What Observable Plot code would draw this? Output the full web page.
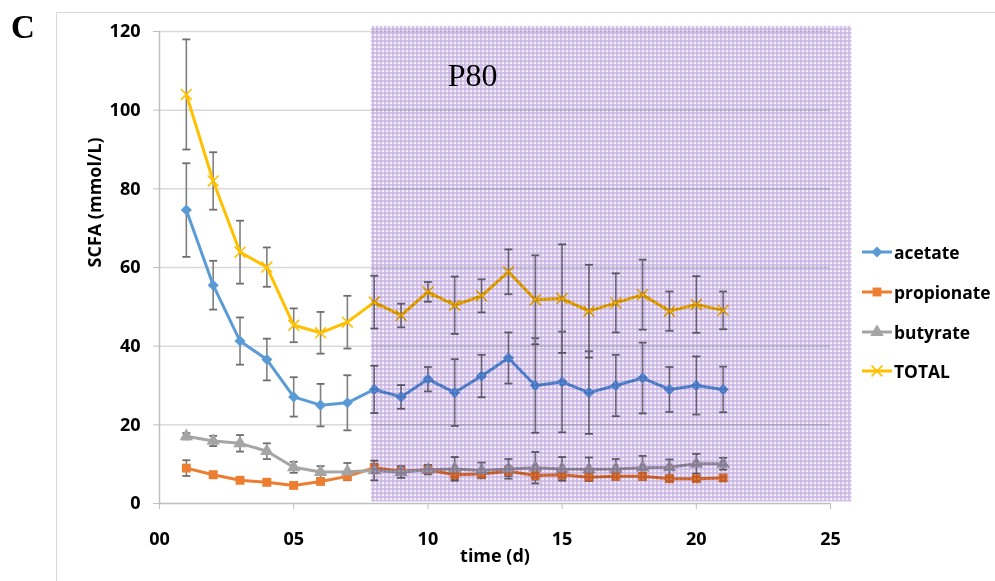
<!DOCTYPE html>
<html>
<head>
<meta charset="utf-8">
<script src="https://cdn.jsdelivr.net/npm/d3@7"></script>
<script src="https://cdn.jsdelivr.net/npm/@observablehq/plot@0.6"></script>
<style>
  html, body { margin: 0; padding: 0; background: #fff; }
  #wrap { position: relative; width: 995px; height: 581px; overflow: hidden; font-family: "Open Sans", Lato, sans-serif; }
  #frame { position: absolute; left: 56px; top: 12px; width: 1000px; height: 600px; border-left: 1.5px solid #d9d9d9; border-top: 1.5px solid #d9d9d9; box-sizing: border-box; }
  #panel { position: absolute; left: 11px; top: 11px; font-family: "Liberation Serif", "DejaVu Serif", serif; font-weight: bold; font-size: 33px; line-height: 33px; color: #000; }
  #chart { position: absolute; left: 0; top: 0; }
  #legend { position: absolute; left: 862px; top: 0; }
  .item { position: absolute; left: 0; height: 24px; display: flex; align-items: center; white-space: nowrap; font-weight: bold; font-size: 17.4px; color: #000; }
  .item svg { margin-right: 2px; }
</style>
</head>
<body>
<div id="wrap">
  <div id="frame"></div>
  <div id="panel">C</div>
  <div id="chart"></div>
  <div id="legend"></div>
</div>
<script>
// ---- data ----
const days = [1, 2, 3, 4, 5, 6, 7, 8, 9, 10, 11, 12, 13, 14, 15, 16, 17, 18, 19, 20, 21];
const acetate = [74.6, 55.5, 41.3, 36.6, 27.1, 25.0, 25.6, 29.0, 27.1, 31.6, 28.2, 32.4, 37.0, 30.0, 30.9, 28.2, 30.0, 31.9, 29.0, 30.0, 29.0];
const acetateErr = [11.9, 6.2, 6.0, 5.3, 5.0, 5.4, 7.0, 6.0, 3.0, 3.1, 8.5, 5.4, 6.5, 12.0, 12.8, 10.5, 7.8, 9.0, 5.7, 7.4, 5.8];
const propionate = [9.0, 7.3, 5.9, 5.4, 4.6, 5.6, 6.9, 9.1, 8.2, 8.6, 7.3, 7.5, 8.2, 7.1, 7.3, 6.7, 6.9, 6.9, 6.3, 6.3, 6.5];
const propionateErr = [2.0, 0.8, 0.5, 0.8, 0.5, 0.5, 0.8, 1.0, 1.0, 1.0, 1.2, 1.0, 1.2, 1.0, 1.0, 1.0, 0.8, 0.8, 0.6, 0.6, 0.6];
const butyrate = [17.1, 15.9, 15.3, 13.3, 9.2, 8.0, 8.1, 8.4, 8.0, 8.6, 8.8, 8.4, 8.8, 9.1, 8.8, 8.7, 8.8, 9.1, 9.2, 10.1, 10.1];
const butyrateErr = [0.8, 1.3, 2.1, 2.0, 1.4, 1.5, 2.2, 2.5, 1.5, 1.2, 3.0, 2.0, 2.5, 4.0, 3.0, 3.0, 2.5, 3.0, 2.0, 2.5, 1.5];
const total = [104.0, 82.0, 63.9, 60.1, 45.3, 43.4, 46.1, 51.2, 47.8, 53.8, 50.4, 52.8, 58.9, 51.8, 52.1, 48.9, 51.0, 53.1, 48.9, 50.6, 49.1];
const totalErr = [14.0, 7.3, 8.0, 5.0, 4.3, 5.3, 6.7, 6.7, 3.0, 2.5, 7.3, 4.2, 5.7, 11.3, 13.8, 11.8, 7.5, 8.9, 5.0, 7.2, 4.8];

const seriesNames = ["acetate", "propionate", "butyrate", "TOTAL"];
const seriesColors = ["#5b9bd5", "#ed7d31", "#a5a5a5", "#ffc000"];
const xTicks = [0, 5, 10, 15, 20, 25];
const xTickLabels = ["00", "05", "10", "15", "20", "25"];
const yTicks = [0, 20, 40, 60, 80, 100, 120];
const shadeStart = 7.9, shadeEnd = 25.8, shadeLow = 0.4, shadeHigh = 121.3;
const annotation = {label: "P80", day: 10.74, value: 108.8};

// ---- build table ----
const values = [acetate, propionate, butyrate, total];
const errs = [acetateErr, propionateErr, butyrateErr, totalErr];
const symbols = ["diamond2", "square", "triangle", "times"];
const rows = [];
seriesNames.forEach((s, i) => days.forEach((d, j) => rows.push({
  series: s, day: d, value: values[i][j], lo: values[i][j] - errs[i][j], hi: values[i][j] + errs[i][j]
})));
const bySeries = s => rows.filter(r => r.series === s);

const capSymbol = { draw(ctx, size) { const r = Math.sqrt(size / Math.PI); ctx.moveTo(-r, 0); ctx.lineTo(r, 0); } };
const FONT = "'Open Sans', Lato, sans-serif";

const marks = [
  Plot.ruleY(yTicks.filter(t => t > 0), {stroke: "#d9d9d9", strokeWidth: 1.5}),
  Plot.ruleX([0], {stroke: "#bfbfbf", strokeWidth: 1.5}),
  Plot.ruleY([0], {stroke: "#bfbfbf", strokeWidth: 1.5}),
  Plot.axisY({ticks: yTicks, tickSize: 6, tickPadding: 13, stroke: "#bfbfbf", fill: "#000", fontSize: 18, fontWeight: "bold", fontFamily: FONT, label: null}),
  Plot.axisX({ticks: xTicks, tickFormat: d => xTickLabels[xTicks.indexOf(d)], tickSize: 6, tickPadding: 23, stroke: "#bfbfbf", fill: "#000", fontSize: 18, fontWeight: "bold", fontFamily: FONT, label: null})
];
seriesNames.forEach((s, i) => {
  const data = bySeries(s);
  marks.push(
    Plot.ruleX(data, {x: "day", y1: "lo", y2: "hi", stroke: "#7f7f7f", strokeWidth: 1.6}),
    Plot.dot(data, {x: "day", y: "lo", symbol: capSymbol, r: 4, stroke: "#6f6f6f", strokeWidth: 1.8}),
    Plot.dot(data, {x: "day", y: "hi", symbol: capSymbol, r: 4, stroke: "#6f6f6f", strokeWidth: 1.8})
  );
});
seriesNames.forEach((s, i) => {
  const data = bySeries(s);
  marks.push(Plot.lineY(data, {x: "day", y: "value", stroke: seriesColors[i], strokeWidth: 3}));
  if (symbols[i] === "times") {
    marks.push(Plot.dot(data, {x: "day", y: "value", symbol: "times", r: 5, stroke: seriesColors[i], strokeWidth: 1.6}));
  } else {
    marks.push(Plot.dot(data, {x: "day", y: "value", symbol: symbols[i], r: 5, fill: seriesColors[i], stroke: "none"}));
  }
});
marks.push(
  Plot.rect([{x1: shadeStart, x2: shadeEnd, y1: shadeLow, y2: shadeHigh}], {x1: "x1", x2: "x2", y1: "y1", y2: "y2", fill: "url(#p80pat)", mixBlendMode: "multiply"}),
  Plot.text([annotation], {x: "day", y: "value", text: "label", textAnchor: "start", fontFamily: "Liberation Serif, serif", fontSize: 32, fill: "#000"}),
  Plot.text(["SCFA (mmol/L)"], {frameAnchor: "left", dx: -64, rotate: -90, lineAnchor: "middle", fontSize: 18, fontWeight: "bold", fontFamily: FONT, fill: "#000"}),
  Plot.text(["time (d)"], {frameAnchor: "bottom", dy: 53, lineAnchor: "middle", fontSize: 18, fontWeight: "bold", fontFamily: FONT, fill: "#000"})
);

const chart = Plot.plot({
  width: 995, height: 581,
  marginLeft: 159, marginRight: 165, marginTop: 31, marginBottom: 78,
  style: {fontFamily: FONT, background: "transparent", overflow: "visible"},
  x: {domain: [0, 25], axis: null},
  y: {domain: [0, 120], axis: null},
  marks
});

// pattern for the P80 shading
const svg = d3.select(chart.tagName.toLowerCase() === "svg" ? chart : chart.querySelector("svg"));
const defs = svg.insert("defs", ":first-child");
const pat = defs.append("pattern").attr("id", "p80pat").attr("width", 4).attr("height", 4).attr("patternUnits", "userSpaceOnUse");
pat.append("rect").attr("width", 4).attr("height", 4).attr("fill", "#efe8f7");
pat.append("rect").attr("width", 2).attr("height", 4).attr("fill", "#c6b1e2").attr("opacity", 0.65);
pat.append("rect").attr("width", 4).attr("height", 2).attr("fill", "#c6b1e2").attr("opacity", 0.65);
pat.append("rect").attr("x", 3).attr("y", 3).attr("width", 1).attr("height", 1).attr("fill", "#ffffff");
document.getElementById("chart").appendChild(chart);

// legend
const legendCenters = [252, 292, 332, 371];
const leg = d3.select("#legend");
seriesNames.forEach((s, i) => {
  const item = leg.append("div").attr("class", "item").style("top", (legendCenters[i] - 12) + "px");
  const sv = item.append("svg").attr("width", 30).attr("height", 14);
  sv.append("line").attr("x1", 0).attr("x2", 30).attr("y1", 7).attr("y2", 7).attr("stroke", seriesColors[i]).attr("stroke-width", 3);
  const sym = {diamond2: d3.symbolDiamond2, square: d3.symbolSquare, triangle: d3.symbolTriangle, times: d3.symbolTimes}[symbols[i]];
  const path = d3.symbol(sym, 25 * Math.PI)();
  const p = sv.append("path").attr("d", path).attr("transform", "translate(15,7)");
  if (symbols[i] === "times") p.attr("fill", "none").attr("stroke", seriesColors[i]).attr("stroke-width", 1.6);
  else p.attr("fill", seriesColors[i]);
  item.append("span").text(s);
});
</script>
</body>
</html>
